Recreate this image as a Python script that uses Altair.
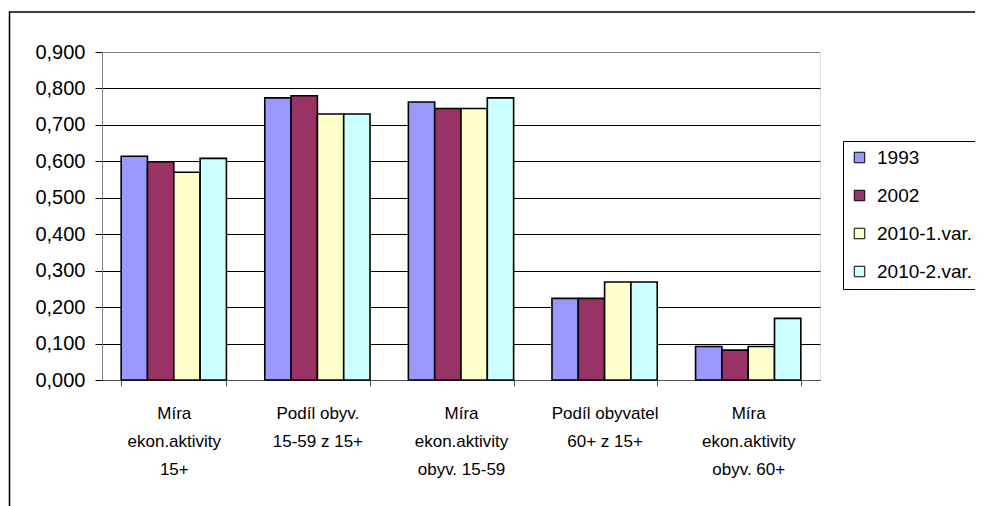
import altair as alt
import pandas as pd

categories = [
    "Míra|ekon.aktivity|15+",
    "Podíl obyv.|15-59 z 15+",
    "Míra|ekon.aktivity|obyv. 15-59",
    "Podíl obyvatel|60+ z 15+",
    "Míra|ekon.aktivity|obyv. 60+",
]
series = ["1993", "2002", "2010-1.var.", "2010-2.var."]
v1993 = [0.614, 0.774, 0.763, 0.224, 0.092]
v2002 = [0.599, 0.780, 0.745, 0.224, 0.082]
v2010_1 = [0.570, 0.730, 0.745, 0.269, 0.092]
v2010_2 = [0.608, 0.730, 0.774, 0.269, 0.169]
colors = ["#9999FF", "#993366", "#FFFFCC", "#CCFFFF"]
y_ticks = [0.0, 0.1, 0.2, 0.3, 0.4, 0.5, 0.6, 0.7, 0.8, 0.9]

rows = []
for s, vals in zip(series, [v1993, v2002, v2010_1, v2010_2]):
    for c, v in zip(categories, vals):
        rows.append({"cat": c, "series": s, "value": v})
df = pd.DataFrame(rows)

FONT = "Liberation Sans"

bars = alt.Chart(df).mark_bar(stroke="black", strokeWidth=1.6).encode(
    x=alt.X(
        "cat:N",
        sort=categories,
        scale=alt.Scale(paddingInner=0.267, paddingOuter=0.1335),
        axis=alt.Axis(
            title=None,
            labelAngle=0,
            labelExpr="split(datum.label, '|')",
            labelFont=FONT,
            labelFontSize=17,
            labelLineHeight=28,
            labelColor="black",
            labelBaseline="top",
            labelPadding=19,
            tickBand="extent",
            tickSize=6,
            tickColor="#555555",
            domainColor="#555555",
            labelLimit=200,
        ),
    ),
    xOffset=alt.XOffset("series:N", sort=series, scale=alt.Scale(paddingInner=0, paddingOuter=0)),
    y=alt.Y(
        "value:Q",
        scale=alt.Scale(domain=[0, 0.9], nice=False),
        axis=alt.Axis(
            title=None,
            values=y_ticks,
            labelExpr="replace(format(datum.value, '.3f'), '.', ',')",
            labelFont=FONT,
            labelFontSize=20,
            labelColor="black",
            labelPadding=10,
            tickSize=7,
            tickColor="black",
            domainColor="#808080",
            gridColor={"condition": {"test": "datum.value >= 0.85", "value": "#808080"}, "value": "#000000"},
            gridWidth=1,
        ),
    ),
    color=alt.Color(
        "series:N",
        sort=series,
        scale=alt.Scale(domain=series, range=colors),
        legend=alt.Legend(
            title=None,
            orient="none",
            legendX=741,
            legendY=89,
            strokeColor="black",
            fillColor="white",
            padding=7,
            rowPadding=18,
            symbolType="square",
            symbolSize=110,
            symbolStrokeColor="black",
            symbolStrokeWidth=1,
            labelFont=FONT,
            labelFontSize=19,
            labelColor="black",
            labelOffset=8,
        ),
    ),
)

frame_df = pd.DataFrame({"a": [0]})
frame = alt.Chart(frame_df).mark_rect(fillOpacity=0, stroke="black", strokeWidth=1.5).encode(
    x=alt.value(-92.5), x2=alt.value(900), y=alt.value(-40), y2=alt.value(480)
)

chart = alt.layer(bars, frame).properties(
    width=718,
    height=328,
    autosize="none",
    padding={"left": 94, "top": 44, "right": 155, "bottom": 126},
).configure_view(stroke="#808080", strokeWidth=1).configure(background="white")

chart.save("out.html", embed_options={"renderer": "svg", "actions": False})
